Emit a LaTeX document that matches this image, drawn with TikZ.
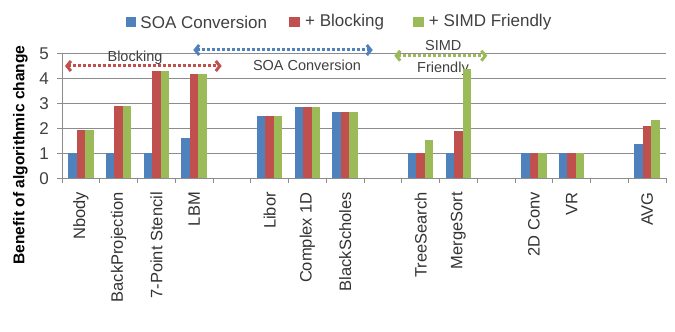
\documentclass[tikz,border=0pt]{standalone}
\usepackage{fontspec}
\setmainfont{Liberation Sans}
\usetikzlibrary{arrows.meta,positioning}
\definecolor{soaazul}{HTML}{4F81BD}
\definecolor{blkrojo}{HTML}{C0504D}
\definecolor{simdverde}{HTML}{9BBB59}
\definecolor{gris}{HTML}{8C8C8C}
\definecolor{texto}{HTML}{404040}
\tikzset{
  datos/.style={shift={(62,153.7)},x=37.75pt,y=24.86pt},
  linea/.style={draw=gris,line width=1pt},
  marca/.style={font=\fontsize{17}{19}\selectfont,text=texto,anchor=east,inner sep=0pt},
  etiq/.style={font=\fontsize{16.5}{18}\selectfont,text=texto!80!black,rotate=90,anchor=east,inner sep=0pt},
  cuadro/.style={rectangle,inner sep=0pt,minimum size=10.5pt},
  leyenda/.style={font=\fontsize{17}{19}\selectfont,text=texto,inner sep=0pt},
  nota/.style={font=\fontsize{14.5}{16}\selectfont,text=texto,inner sep=0pt},
  tramo/.style={line width=3pt,dash pattern=on 3pt off 2pt,
    {Straight Barb[length=4pt,width=10pt]}-{Straight Barb[length=4pt,width=10pt]}},
}
\begin{document}
\begin{tikzpicture}[x=1pt,y=1pt]
  \useasboundingbox (0,0) rectangle (675,332);
  \begin{scope}[datos]
    \foreach \k in {1,...,5}
      \draw[linea] (0,\k) -- (16,\k);
    \draw[linea] (0,0) -- (16,0);
    \draw[linea] (0,0) -- (0,5);
    \foreach \k in {0,...,5}{
      \draw[linea] (0,\k) -- ++(-5pt,0);
      \node[marca] (m\k) at ([xshift=-13pt]0,\k) {\k};
    }
    \foreach \j in {0,...,16}
      \draw[linea] (\j,0) -- ++(0,-4.5pt);
    \foreach \i/\t in {1/Nbody,2/BackProjection,3/7-Point Stencil,4/LBM,6/Libor,
        7/Complex 1D,8/BlackScholes,10/TreeSearch,11/MergeSort,13/2D Conv,14/VR,16/AVG}
      \node[etiq] (cat\i) at ([yshift=-13.7pt]\i-0.5,0) {\t};
  \end{scope}

  \node[rotate=90,inner sep=0pt,font=\bfseries\fontsize{15.6}{17}\selectfont] (ytit) at (20.5,177)
    {Benefit of algorithmic change};

  \node[cuadro,fill=soaazul] (legA) at (131,310) {};
  \node[leyenda,right=3.8pt of legA] (legAt) {SOA Conversion};
  \node[cuadro,fill=blkrojo] (legB) at (294.5,310) {};
  \node[leyenda,right=5pt of legB] (legBt) {+ Blocking};
  \node[cuadro,fill=simdverde] (legC) at (418.3,310) {};
  \node[leyenda,right=5pt of legC] (legCt) {+ SIMD Friendly};

  \coordinate (blkI) at (65,266);
  \coordinate (blkD) at (221.7,266);
  \node[nota] (blk) at (135,274.3) {Blocking};
  \draw[tramo,blkrojo] (blkI) -- (blkD);
  \coordinate (soaI) at (193.3,282);
  \coordinate (soaD) at (372.7,282);
  \node[nota] (soa) at (307,267) {SOA Conversion};
  \draw[tramo,soaazul] (soaI) -- (soaD);
  \coordinate (simdI) at (394.3,276.3);
  \coordinate (simdD) at (487.3,276.3);
  \node[nota] (simd) at (443.3,286.3) {SIMD};
  \node[nota] (fri) at (443,263.7) {Friendly};
  \draw[tramo,simdverde] (simdI) -- (simdD);

  \begin{scope}[datos]
    \foreach \i/\a/\b/\c in {1/1/1.93/1.93,2/1/2.9/2.9,3/1/4.3/4.3,4/1.63/4.2/4.2,
        6/2.52/2.52/2.52,7/2.88/2.88/2.88,8/2.68/2.68/2.68,10/1/1/1.55,
        11/1/1.92/4.4,13/1/1/1,14/1/1/1,16/1.38/2.12/2.36}{
      \fill[soaazul] (\i-0.8375,0) rectangle (\i-0.6125,\a);
      \fill[blkrojo] (\i-0.6125,0) rectangle (\i-0.3875,\b);
      \fill[simdverde] (\i-0.3875,0) rectangle (\i-0.1625,\c);
    }
  \end{scope}
\end{tikzpicture}
\end{document}
